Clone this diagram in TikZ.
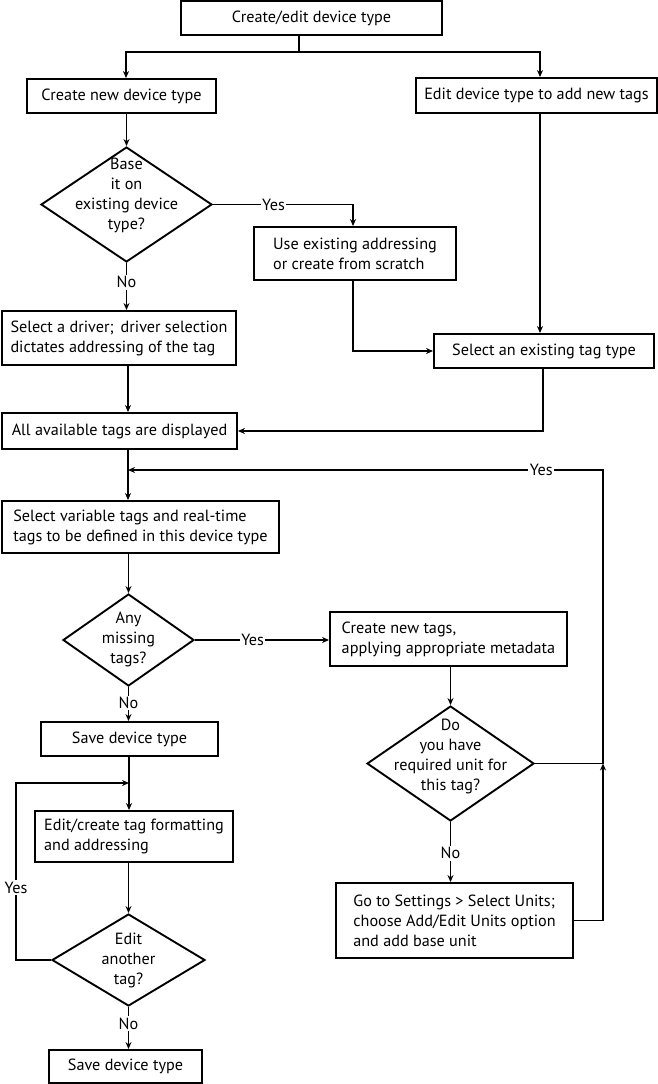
\documentclass[tikz,border=0pt]{standalone}
\usepackage{fontspec}
\setmainfont{PT Sans}
\usetikzlibrary{arrows.meta,shapes.geometric}
\begin{document}
\begin{tikzpicture}[x=1pt,y=-1pt,
  every node/.style={font=\fontsize{16.2}{20}\selectfont},
  box/.style={draw,line width=1.9pt,inner sep=0pt,align=left},
  dia/.style={draw,diamond,line width=1.9pt,inner sep=0pt},
  dtext/.style={align=center,inner sep=0pt},
  conn/.style={line width=1.9pt},
  arr/.style={conn,-{Stealth[length=7pt,width=6pt]}},
  lbl/.style={fill=white,inner sep=1.5pt},
]
\useasboundingbox (0,0) rectangle (658,1084);

% boxes
\node[box,minimum width=261pt,minimum height=34pt] (top) at (311.5,18) {Create/edit device type};
\node[box,minimum width=189pt,minimum height=34pt] (newdt) at (121.5,96) {Create new device type};
\node[box,minimum width=241pt,minimum height=35pt] (editdt) at (536.5,95.5) {Edit device type to add new tags};
\node[box,minimum width=202pt,minimum height=53pt] (useex) at (355,253.5) {Use existing addressing\\or create from scratch};
\node[box,minimum width=234pt,minimum height=54pt] (driver) at (119,338) {Select a driver;\, driver selection\\dictates addressing of the tag};
\node[box,minimum width=220pt,minimum height=34pt] (selex) at (544,351) {Select an existing tag type};
\node[box,minimum width=235pt,minimum height=36pt] (allav) at (119.5,431) {All available tags are displayed};
\node[box,minimum width=277pt,minimum height=52pt] (selvar) at (140.5,527) {Select variable tags and real-time\\tags to be defined in this device type};
\node[box,minimum width=237pt,minimum height=54pt] (newtags) at (448.5,639) {Create new tags,\\applying appropriate metadata};
\node[box,minimum width=177pt,minimum height=34pt] (save1) at (129.5,739) {Save device type};
\node[box,minimum width=198pt,minimum height=51pt] (editcr) at (134,836.5) {Edit/create tag formatting\\and addressing};
\node[box,minimum width=237pt,minimum height=75pt] (goto) at (454.5,920.5) {Go to Settings > Select Units;\\choose Add/Edit Units option\\and add base unit};
\node[box,minimum width=153pt,minimum height=33pt] (save2) at (125.5,1066.5) {Save device type};

% diamonds
\node[dia,minimum width=171pt,minimum height=115pt] (d1) at (126.5,204.5) {};
\node[dtext] (d1t) at (126.5,195) {Base\\it on\\existing device\\type?};
\node[dia,minimum width=131pt,minimum height=92pt] (d2) at (128.5,640) {};
\node[dtext] (d2t) at (128.5,639) {Any\\missing\\tags?};
\node[dia,minimum width=167pt,minimum height=115pt] (d3) at (450.5,763.5) {};
\node[dtext] (d3t) at (450.5,756) {Do\\you have\\required unit for\\this tag?};
\node[dia,minimum width=153pt,minimum height=92pt] (d4) at (128.5,960) {};
\node[dtext] (d4t) at (128.5,960) {Edit\\another\\tag?};

% helper coordinates
\coordinate (jt) at (299,52);
\coordinate (xL) at (126,52);
\coordinate (xR) at (540,52);
\coordinate (xU) at (353,0);
\coordinate (xS) at (128,0);
\coordinate (xQ) at (543,0);
\coordinate (xF) at (603,0);
\coordinate (fb) at (128,470);
\coordinate (xE) at (129,0);
\coordinate (xY) at (16,0);
\coordinate (yLoop) at (0,783);

% connectors
\draw[conn] (top.south -| jt) -- (jt);
\draw[arr] (jt) -| (newdt.north -| xL);
\draw[arr] (jt) -| (editdt.north -| xR);
\draw[arr] (newdt.south -| d1.north) -- (d1.north);
\draw[arr] (d1.east) -| node[lbl,pos=0.216]{Yes} (useex.north -| xU);
\draw[arr] (d1.south) -- node[lbl,pos=0.41]{No} (d1.south |- driver.north);
\draw[arr] (editdt.south -| xR) -- (selex.north -| xR);
\draw[arr] (useex.south -| xU) |- (selex.west);
\draw[arr] (driver.south -| xS) -- (allav.north -| xS);
\draw[arr] (selex.south -| xQ) |- (allav.east);
\draw[arr] (allav.south -| xS) -- (selvar.north -| xS);
\draw[arr] (selvar.south -| d2.north) -- (d2.north);
\draw[arr] (d2.east) -- node[lbl,pos=0.43]{Yes} (d2.east -| newtags.west);
\draw[arr] (d2.south) -- node[lbl,pos=0.47]{No} (d2.south |- save1.north);
\draw[arr] (newtags.south -| d3.north) -- (d3.north);
\draw[arr] (d3.south) -- node[lbl,pos=0.52]{No} (d3.south |- goto.north);
\draw[arr] (goto.east) -| (d3.east -| xF);
\draw[conn] (d3.east) -- (d3.east -| xF);
\draw[arr] (d3.east -| xF) |- node[lbl,pos=0.565]{Yes} (fb);
\draw[arr] (save1.south -| xE) -- (editcr.north -| xE);
\draw[arr] (editcr.south -| d4.north) -- (d4.north);
\draw[arr] (d4.west) -- (d4.west -| xY) -- node[lbl,pos=0.41]{Yes} (xY |- yLoop) -- (xE |- yLoop);
\draw[arr] (d4.south) -- node[lbl,pos=0.39]{No} (d4.south |- save2.north);
\end{tikzpicture}
\end{document}
